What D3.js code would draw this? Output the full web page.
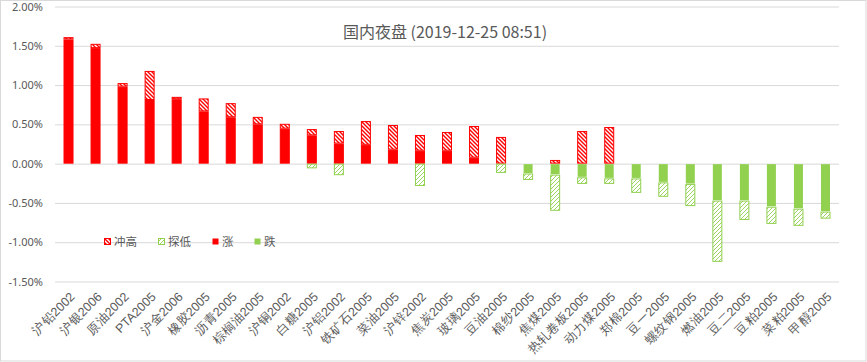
<!DOCTYPE html>
<html lang="zh">
<head>
    <meta charset="UTF-8">
    <title>国内夜盘</title>
    <script src="https://d3js.org/d3.v7.min.js"></script>
    <style>
        body { margin: 0; background: #fff; }
        svg { display: block; font-family: "Noto Sans CJK SC", "Noto Sans", sans-serif; }
    </style>
</head>
<body>
    <svg></svg>
<script>

    // 品种
    const categories = ["沪铅2002", "沪银2006", "原油2002", "PTA2005", "沪金2006", "橡胶2005", "沥青2005",
        "棕榈油2005", "沪铜2002", "白糖2005", "沪铝2002", "铁矿石2005", "菜油2005", "沪锌2002", "焦炭2005",
        "玻璃2005", "豆油2005", "棉纱2005", "焦煤2005", "热轧卷板2005", "动力煤2005", "郑棉2005", "豆一2005",
        "螺纹钢2005", "燃油2005", "豆二2005", "豆粕2005", "菜粕2005", "甲醇2005"];

    // 收盘涨跌幅 (%)
    const closeChg = [1.58, 1.47, 0.98, 0.81, 0.82, 0.665, 0.59, 0.50, 0.445, 0.36, 0.255, 0.24, 0.178, 0.165, 0.165,
        0.076, 0, -0.125, -0.14, -0.174, -0.187, -0.188, -0.238, -0.26, -0.47, -0.47, -0.548, -0.573, -0.61];

    // 最高 (%)
    const highChg = [1.61, 1.525, 1.025, 1.18, 0.85, 0.83, 0.77, 0.595, 0.507, 0.44, 0.415, 0.542, 0.492, 0.365, 0.403,
        0.479, 0.34, 0, 0.047, 0.415, 0.466, 0, 0, 0, 0, 0, 0, 0, 0];

    // 最低 (%)
    const lowChg = [0, 0, 0, 0, 0, 0, 0, 0, 0, -0.06, -0.147, 0, 0, -0.284, 0,
        0, -0.118, -0.208, -0.60, -0.258, -0.258, -0.372, -0.422, -0.54, -1.25, -0.717, -0.767, -0.792, -0.70];

    const yTicks = [-1.5, -1.0, -0.5, 0, 0.5, 1.0, 1.5, 2.0];

    const legendItems = [
        { name: "冲高", fill: "url(#hatchUp)", stroke: "#FF0000", x: 104 },
        { name: "探低", fill: "url(#hatchDown)", stroke: "#92D050", x: 158 },
        { name: "涨", fill: "#FF0000", stroke: "none", x: 212 },
        { name: "跌", fill: "#92D050", stroke: "none", x: 254 }
    ];

    const width = 867;
    const height = 362;
    const margin = { left: 55, right: 28, top: 7, bottom: 80 };
    const red = "#FF0000";
    const green = "#92D050";
    const textColor = "#595959";

    const svg = d3.select("svg")
        .attr("width", width)
        .attr("height", height);

    // patterns
    const defs = svg.append("defs");
    const pUp = defs.append("pattern")
        .attr("id", "hatchUp")
        .attr("patternUnits", "userSpaceOnUse")
        .attr("width", 4).attr("height", 4);
    pUp.append("rect").attr("width", 4).attr("height", 4).attr("fill", "#fff");
    pUp.append("path")
        .attr("d", "M-1,-1 L5,5 M-1,3 L1,5 M3,-1 L5,1")
        .attr("stroke", red).attr("stroke-width", 1.4);

    const pDown = defs.append("pattern")
        .attr("id", "hatchDown")
        .attr("patternUnits", "userSpaceOnUse")
        .attr("width", 4).attr("height", 4);
    pDown.append("rect").attr("width", 4).attr("height", 4).attr("fill", "#fff");
    pDown.append("path")
        .attr("d", "M-1,5 L5,-1 M-1,1 L1,-1 M3,5 L5,3")
        .attr("stroke", green).attr("stroke-width", 0.9);

    // outer border
    svg.append("rect")
        .attr("x", 0.5).attr("y", 0.5)
        .attr("width", width - 1.5).attr("height", height - 1.5)
        .attr("fill", "none")
        .attr("stroke", "#d9d9d9");

    const xScale = d3.scaleBand()
        .domain(categories)
        .range([margin.left, width - margin.right])
        .paddingInner(0.63)
        .paddingOuter(0.315);

    const yScale = d3.scaleLinear()
        .domain([-1.5, 2.0])
        .range([281.5, 6.5]);

    // gridlines + y labels
    const yAxis = d3.axisLeft(yScale)
        .tickValues(yTicks)
        .tickSize(-(width - margin.right - margin.left))
        .tickFormat(d => d.toFixed(2) + "%");

    svg.append("g")
        .attr("transform", `translate(${margin.left},0)`)
        .call(yAxis)
        .call(g => g.select(".domain").remove())
        .call(g => g.selectAll(".tick line").attr("stroke", "#d9d9d9"))
        .call(g => g.selectAll(".tick text")
            .attr("x", -12)
            .attr("fill", textColor)
            .style("font-size", "11px")
            .style("font-family", "'Noto Sans', sans-serif"));

    // build segments
    const rows = categories.map((c, i) => ({ name: c, close: closeChg[i], high: highChg[i], low: lowChg[i] }));

    const segs = [];
    rows.forEach(d => {
        if (d.close > 0) segs.push({ name: d.name, y0: 0, y1: d.close, fill: red, stroke: red });
        if (d.close < 0) segs.push({ name: d.name, y0: 0, y1: d.close, fill: green, stroke: "none" });
        const top = Math.max(d.close, 0);
        if (d.high > top) segs.push({ name: d.name, y0: top, y1: d.high, fill: "url(#hatchUp)", stroke: red });
        const bot = Math.min(d.close, 0);
        if (d.low < bot) segs.push({ name: d.name, y0: bot, y1: d.low, fill: "url(#hatchDown)", stroke: green });
    });

    svg.append("g")
        .selectAll("rect")
        .data(segs)
        .join("rect")
        .attr("x", d => xScale(d.name) + 0.5)
        .attr("width", xScale.bandwidth() - 1)
        .attr("y", d => yScale(Math.max(d.y0, d.y1)) + 0.5)
        .attr("height", d => Math.max(0, Math.abs(yScale(d.y0) - yScale(d.y1)) - 1))
        .attr("fill", d => d.fill)
        .attr("stroke", d => d.stroke)
        .attr("stroke-width", 1);

    // x labels, placed at the bottom of the plot
    const xAxis = d3.axisBottom(xScale).tickSize(0);
    svg.append("g")
        .attr("transform", `translate(0,${yScale(-1.5)})`)
        .call(xAxis)
        .call(g => g.select(".domain").remove())
        .call(g => g.selectAll(".tick text")
            .attr("fill", textColor)
            .style("font-size", "12.5px")
            .attr("text-anchor", "end")
            .attr("y", 0)
            .attr("dy", 0)
            .attr("transform", "translate(7,16) rotate(-45)"));

    // title
    svg.append("text")
        .attr("x", 445)
        .attr("y", 38)
        .attr("text-anchor", "middle")
        .attr("fill", textColor)
        .style("font-size", "16px")
        .text("国内夜盘 (2019-12-25 08:51)");

    // legend
    const legend = svg.append("g");
    const li = legend.selectAll("g")
        .data(legendItems)
        .join("g")
        .attr("transform", d => `translate(${d.x},242)`);
    li.append("rect")
        .attr("x", 0.5).attr("y", -3.5)
        .attr("width", 6).attr("height", 6)
        .attr("fill", d => d.fill)
        .attr("stroke", d => d.stroke);
    li.append("text")
        .attr("x", 10)
        .attr("y", 4)
        .attr("fill", textColor)
        .style("font-size", "11.5px")
        .text(d => d.name);

</script>
</body>
</html>
